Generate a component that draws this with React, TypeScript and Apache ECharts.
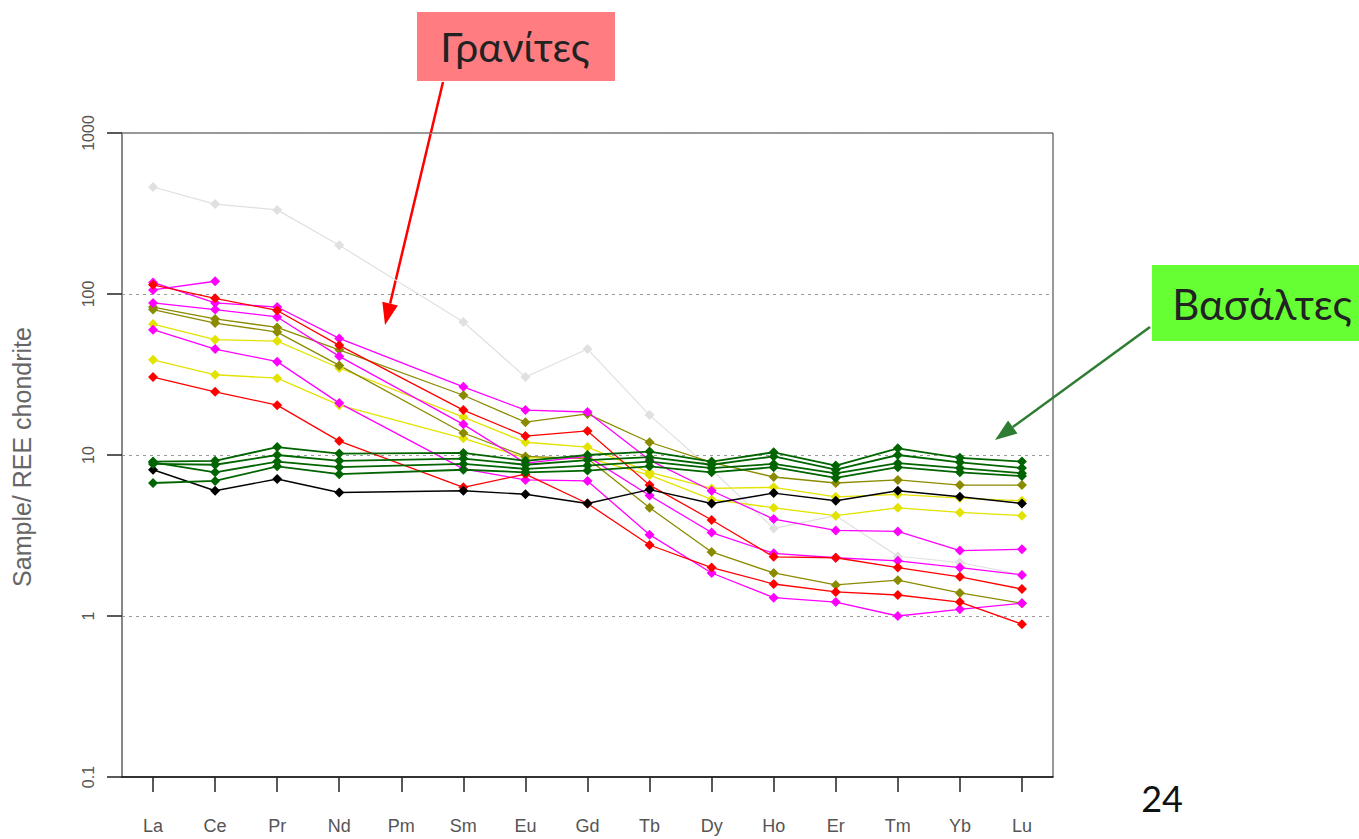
import React, { useEffect, useRef } from "react";
import * as echarts from "echarts";

const elements = ["La", "Ce", "Pr", "Nd", "Pm", "Sm", "Eu", "Gd", "Tb", "Dy", "Ho", "Er", "Tm", "Yb", "Lu"];
const yTickLabels = ["0.1", "1", "10", "100", "1000"];

// Granites
const gray1 = [462, 362, 333, 201, null, 67, 30.5, 45.5, 17.7, 8.1, 3.5, 4.2, 2.35, 2.15, 1.8];
const yellow1 = [65, 52, 51, 34.7, null, 17.2, 12, 11.2, 7.8, 6.2, 6.3, 5.5, 5.7, 5.4, 5.2];
const yellow2 = [39, 31.5, 30, 20.4, null, 12.7, 9.6, 9.6, 7.5, 5.3, 4.7, 4.2, 4.7, 4.4, 4.2];
const olive1 = [83, 70, 62, 45, null, 23.5, 16, 18, 12.0, 9.0, 7.3, 6.7, 7.0, 6.5, 6.5];
const olive2 = [80, 66, 58, 36, null, 13.7, 9.8, 9.5, 4.7, 2.5, 1.85, 1.56, 1.67, 1.39, 1.2];
const magenta1 = [118, 88, 83, 53, null, 26.5, 19, 18.5, 9.3, 6.0, 4.0, 3.4, 3.35, 2.55, 2.6];
const magenta2 = [88, 80, 72, 41, null, 15.5, 8.9, 9.8, 5.6, 3.3, 2.45, 2.3, 2.2, 2.0, 1.8];
const magenta3 = [60, 45.5, 38, 21, null, 8.2, 7.0, 6.9, 3.2, 1.85, 1.3, 1.22, 1.0, 1.1, 1.2];
const magenta4 = [106, 120, null, null, null, null, null, null, null, null, null, null, null, null, null];
const red1 = [114, 94, 79, 48, null, 19, 13.1, 14.1, 6.5, 3.95, 2.33, 2.3, 2.0, 1.75, 1.47];
const red2 = [30.5, 24.7, 20.4, 12.2, null, 6.3, 7.6, 5.0, 2.76, 2.0, 1.58, 1.41, 1.35, 1.22, 0.89];
// Basalts
const black1 = [8.1, 6.0, 7.1, 5.85, null, 6.0, 5.7, 5.0, 6.1, 5.0, 5.8, 5.2, 6.0, 5.5, 5.0];
const green1 = [9.1, 9.2, 11.2, 10.2, null, 10.3, 9.2, 10.0, 10.5, 9.1, 10.4, 8.6, 11.0, 9.6, 9.1];
const green2 = [8.8, 8.7, 10.0, 9.2, null, 9.5, 8.7, 9.3, 9.7, 8.7, 9.8, 8.1, 10.0, 9.0, 8.3];
const green3 = [9.0, 7.8, 9.1, 8.4, null, 8.8, 8.2, 8.6, 9.1, 8.3, 8.8, 7.7, 8.9, 8.3, 7.7];
const green4 = [6.7, 6.9, 8.5, 7.6, null, 8.1, 7.8, 8.0, 8.5, 7.8, 8.4, 7.2, 8.4, 7.8, 7.4];

const FONT = "'Liberation Sans', Arial, sans-serif";
const SLIDE_FONT = "Lato, 'Open Sans', sans-serif";

function mkSeries(data: (number | null)[], color: string, width = 1.3, size = 10) {
  return {
    type: "line",
    data,
    connectNulls: true,
    symbol: "diamond",
    symbolSize: size,
    lineStyle: { color, width },
    itemStyle: { color },
    silent: true,
  };
}

function arrowHead(x1: number, y1: number, x2: number, y2: number, len: number, half: number) {
  const dx = x2 - x1;
  const dy = y2 - y1;
  const L = Math.sqrt(dx * dx + dy * dy);
  const ux = dx / L;
  const uy = dy / L;
  const bx = x2 - len * ux;
  const by = y2 - len * uy;
  const nx = -uy;
  const ny = ux;
  return {
    base: [bx, by],
    points: [
      [x2, y2],
      [bx + half * nx, by + half * ny],
      [bx - half * nx, by - half * ny],
    ],
  };
}

export default function App() {
  const ref = useRef<HTMLDivElement>(null);
  useEffect(() => {
    if (!ref.current) return;
    const chart = echarts.init(ref.current, null, { renderer: "svg" });
    const redA = arrowHead(443, 82, 385, 325, 22, 8);
    const greenA = arrowHead(1150, 327, 995, 440, 22, 8);
    chart.setOption({
      animation: false,
      backgroundColor: "#ffffff",
      grid: {
        left: 122,
        top: 133,
        width: 931,
        height: 644,
        show: true,
        borderColor: "#333",
        borderWidth: 1,
        containLabel: false,
      },
      xAxis: {
        type: "category",
        data: elements,
        boundaryGap: true,
        axisLine: { show: true, lineStyle: { color: "#111", width: 1.5 } },
        axisTick: { show: true, alignWithLabel: true, length: 15, lineStyle: { color: "#222", width: 1.5 } },
        axisLabel: { margin: 40, fontSize: 18, color: "#555", fontFamily: FONT },
        splitLine: { show: false },
      },
      yAxis: {
        type: "log",
        logBase: 10,
        min: 0.1,
        max: 1000,
        axisLine: { show: true, lineStyle: { color: "#888", width: 2 } },
        axisTick: { show: true, length: 15, lineStyle: { color: "#222", width: 1.5 } },
        axisLabel: {
          rotate: 90,
          margin: 26,
          fontSize: 16,
          color: "#555",
          fontFamily: FONT,
          formatter: (v: number) => {
            const idx = Math.round(Math.log10(v)) + 1;
            return yTickLabels[idx] ?? String(v);
          },
        },
        splitLine: { show: true, lineStyle: { color: "#9a9a9a", type: [3, 4], width: 1 } },
      },
      series: [
        mkSeries(gray1, "#e0e0e0", 1.2),
        mkSeries(yellow1, "#e3e300"),
        mkSeries(yellow2, "#e3e300"),
        mkSeries(olive1, "#8b8b00"),
        mkSeries(olive2, "#8b8b00"),
        mkSeries(magenta1, "#ff00ff"),
        mkSeries(magenta2, "#ff00ff"),
        mkSeries(magenta3, "#ff00ff"),
        mkSeries(magenta4, "#ff00ff"),
        mkSeries(red1, "#ff0000"),
        mkSeries(red2, "#ff0000"),
        mkSeries(black1, "#000000", 1.4),
        mkSeries(green1, "#006400", 1.8),
        mkSeries(green2, "#006400", 1.8),
        mkSeries(green3, "#006400", 1.8),
        mkSeries(green4, "#006400", 1.8),
      ],
      graphic: [
        {
          type: "text",
          x: 22,
          y: 457,
          rotation: Math.PI / 2,
          style: {
            text: "Sample/ REE chondrite",
            fontSize: 25,
            fontFamily: FONT,
            fill: "#666",
            align: "center",
            verticalAlign: "middle",
          },
        },
        {
          type: "rect",
          shape: { x: 417, y: 12, width: 198, height: 69 },
          style: { fill: "#ff7c80" },
        },
        {
          type: "text",
          x: 515,
          y: 46,
          style: {
            text: "Γρανίτες",
            fontSize: 41,
            fontFamily: SLIDE_FONT,
            fill: "#222",
            align: "center",
            verticalAlign: "middle",
          },
        },
        {
          type: "line",
          shape: { x1: 443, y1: 82, x2: redA.base[0], y2: redA.base[1] },
          style: { stroke: "#ff0000", lineWidth: 2.5 },
        },
        {
          type: "polygon",
          shape: { points: redA.points },
          style: { fill: "#ff0000" },
        },
        {
          type: "rect",
          shape: { x: 1152, y: 265, width: 207, height: 76 },
          style: { fill: "#66ff33" },
        },
        {
          type: "text",
          x: 1262,
          y: 304,
          style: {
            text: "Βασάλτες",
            fontSize: 42,
            fontFamily: SLIDE_FONT,
            fill: "#222",
            align: "center",
            verticalAlign: "middle",
          },
        },
        {
          type: "line",
          shape: { x1: 1150, y1: 327, x2: greenA.base[0], y2: greenA.base[1] },
          style: { stroke: "#2e7d32", lineWidth: 2.5 },
        },
        {
          type: "polygon",
          shape: { points: greenA.points },
          style: { fill: "#2e7d32" },
        },
        {
          type: "text",
          x: 1162,
          y: 798,
          style: {
            text: "24",
            fontSize: 36,
            fontFamily: SLIDE_FONT,
            fill: "#111",
            align: "center",
            verticalAlign: "middle",
          },
        },
      ],
    });
    return () => chart.dispose();
  }, []);
  return (
    <div
      ref={ref}
      style={{ position: "fixed", left: 0, top: 0, width: 1359, height: 839, background: "#fff" }}
    />
  );
}
